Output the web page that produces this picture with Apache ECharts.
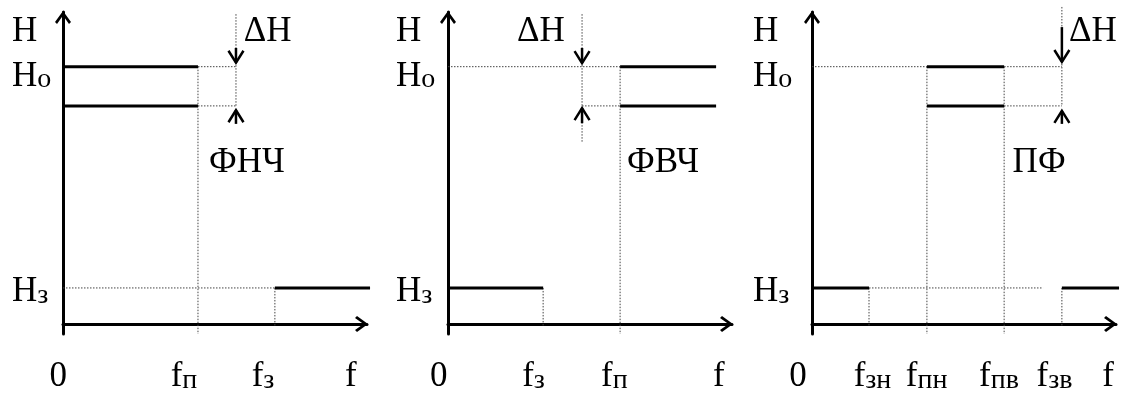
<!DOCTYPE html>
<html><head><meta charset="utf-8">
<script src="https://cdn.jsdelivr.net/npm/echarts@6/dist/echarts.min.js"></script>
<style>html,body{margin:0;padding:0;background:#fff}#c{width:1124px;height:394px}</style>
</head><body><div id="c"></div>
<script>
// ---------- data (schematic units) ----------
const panelTitles = ['ФНЧ', 'ФВЧ', 'ПФ'];
const deltaLabel = 'ΔН';
const yTickLabels = ['Н', 'Но', 'Нз'];
const yTickLabelValues = [8.2, 6.95, 0.95];
const hLevels = [7.15, 6.06, 1.0];            // Но, Но−ΔН, Нз
const yRange = [-0.28, 8.67];
const xRange = [0, 10];

const lpfFreqs = [4.44, 6.97];                // fп, fз
const hpfFreqs = [3.35, 6.06];                // fз, fп
const bpfFreqs = [1.875, 3.78, 6.32, 8.22];   // fзн, fпн, fпв, fзв
const fEnd = [10.1, 9.44, 10.1];              // right end of the response lines
const bpfStopDotEnd = 7.6;

const deltaMarkX = [5.69, 4.72, 8.22];        // ΔН marker position
const deltaDotTop = [8.61, 8.61, 8.81];
const deltaDotBottom = [6.06, 5.03, 6.06];
const arrowDownFrom = [7.67, 7.67, 8.25];
const arrowDownTo = [7.26, 7.25, 7.28];
const arrowUpFrom = [5.56, 5.58, 5.56];
const arrowUpTo = [5.94, 6.0, 5.92];

const yLabelX = [-1.68, -1.83, -1.94];
const deltaLabelPos = [[6.73, 8.2], [3.27, 8.2], [9.24, 8.2]];
const titlePos = [[6.05, 4.56], [7.57, 4.56], [7.47, 4.56]];
const xLabelY = -1.41;
const xTickLabels1 = ['0', 'fп', 'fз', 'f'];
const xTickLabelValues1 = [-0.16, 3.98, 6.58, 9.47];
const xTickLabels2 = ['0', 'fз', 'fп', 'f'];
const xTickLabelValues2 = [-0.33, 3.01, 5.86, 9.54];
const xTickLabels3 = ['0', 'fзн', 'fпн', 'fпв', 'fзв', 'f'];
const xTickLabelValues3 = [-0.46, 1.99, 3.77, 6.15, 7.98, 9.74];

// ---------- build geometry in data space ----------
const [H0, H1, Hz] = hLevels;
const yBot = yRange[0];
const axisFoot = -0.05;

function lpf() {
  const [fp, fz] = lpfFreqs, xm = deltaMarkX[0];
  return {
    solid: [[0, H0, fp, H0], [0, H1, fp, H1], [fz, Hz, fEnd[0], Hz]],
    dotted: [[fp, H0, xm, H0], [fp, H1, xm, H1], [fp, H0, fp, yBot], [0, Hz, fz, Hz],
             [fz, Hz, fz, axisFoot], [xm, deltaDotTop[0], xm, deltaDotBottom[0]]]
  };
}
function hpf() {
  const [fz, fp] = hpfFreqs, xm = deltaMarkX[1];
  return {
    solid: [[fp, H0, fEnd[1], H0], [fp, H1, fEnd[1], H1], [0, Hz, fz, Hz]],
    dotted: [[0, H0, fp, H0], [xm, H1, fp, H1], [fp, H0, fp, yBot],
             [fz, Hz, fz, axisFoot], [xm, deltaDotTop[1], xm, deltaDotBottom[1]]]
  };
}
function bpf() {
  const [fzn, fpn, fpv, fzv] = bpfFreqs, xm = deltaMarkX[2];
  return {
    solid: [[fpn, H0, fpv, H0], [fpn, H1, fpv, H1], [0, Hz, fzn, Hz], [fzv, Hz, fEnd[2], Hz]],
    dotted: [[0, H0, fpn, H0], [fpv, H0, xm, H0], [fpv, H1, xm, H1], [fpn, H0, fpn, yBot],
             [fpv, H0, fpv, yBot], [fzn, Hz, fzn, axisFoot], [fzn, Hz, bpfStopDotEnd, Hz],
             [fzv, Hz, fzv, axisFoot], [xm, deltaDotTop[2], xm, deltaDotBottom[2]]]
  };
}
const panels = [lpf(), hpf(), bpf()];
const xLabelSets = [[xTickLabels1, xTickLabelValues1], [xTickLabels2, xTickLabelValues2], [xTickLabels3, xTickLabelValues3]];

// ---------- layout / styles ----------
const FONT_FAMILY = '"Liberation Serif", "Times New Roman", serif';
const FONT_SIZE = 35;
const SUB_SIZE = 28;
const chevron = 'path://M8,0L16,11L14,13L8,4.5L2,13L0,11Z';
const gridBoxes = [
  { left: 63, top: 12, width: 304, height: 322 },
  { left: 448, top: 12, width: 284, height: 322 },
  { left: 812, top: 12, width: 304, height: 322 }
];

function segSeries(i, data, dotted) {
  return {
    type: 'custom', xAxisIndex: i, yAxisIndex: i, data: data, silent: true, z: dotted ? 2 : 3,
    renderItem: function (params, api) {
      const a = api.coord([api.value(0), api.value(1)]);
      const b = api.coord([api.value(2), api.value(3)]);
      return {
        type: 'line',
        shape: { x1: a[0], y1: a[1], x2: b[0], y2: b[1] },
        style: dotted ? { stroke: '#444', lineWidth: 1, lineDash: [1.5, 1.5] }
                      : { stroke: '#000', lineWidth: 3 }
      };
    }
  };
}
function arrowSeries(i) {
  const data = [[deltaMarkX[i], arrowDownFrom[i], arrowDownTo[i]], [deltaMarkX[i], arrowUpFrom[i], arrowUpTo[i]]];
  return {
    type: 'custom', xAxisIndex: i, yAxisIndex: i, data: data, silent: true, z: 4,
    renderItem: function (params, api) {
      const p0 = api.coord([api.value(0), api.value(1)]);
      const p1 = api.coord([api.value(0), api.value(2)]);
      const dir = p1[1] > p0[1] ? 1 : -1;
      const hw = 7.5, hh = 12;
      return {
        type: 'group', children: [
          { type: 'line', shape: { x1: p0[0], y1: p0[1], x2: p1[0], y2: p1[1] }, style: { stroke: '#000', lineWidth: 2.5 } },
          { type: 'polyline', shape: { points: [[p1[0] - hw, p1[1] - dir * hh], [p1[0], p1[1]], [p1[0] + hw, p1[1] - dir * hh]] },
            style: { stroke: '#000', lineWidth: 2.5, fill: null } }
        ]
      };
    }
  };
}
// a label like "fзн" is drawn as a main letter followed by a smaller index
function richText(t) {
  if (t.length < 2 || t === deltaLabel || panelTitles.indexOf(t) >= 0) return '{m|' + t + '}';
  return '{m|' + t[0] + '}{s|' + t.slice(1) + '}';
}
function textSeries(i) {
  const items = [];
  yTickLabels.forEach((t, k) => items.push({ t: t, v: [yLabelX[i], yTickLabelValues[k]], a: 'left' }));
  items.push({ t: deltaLabel, v: deltaLabelPos[i], a: 'center' });
  items.push({ t: panelTitles[i], v: titlePos[i], a: 'center' });
  const [labs, vals] = xLabelSets[i];
  labs.forEach((t, k) => items.push({ t: t, v: [vals[k], xLabelY], a: 'center' }));
  return {
    type: 'custom', xAxisIndex: i, yAxisIndex: i, silent: true, z: 5,
    data: items.map(d => d.v),
    renderItem: function (params, api) {
      const d = items[params.dataIndex];
      const p = api.coord([api.value(0), api.value(1)]);
      return { type: 'text', x: p[0], y: p[1],
        style: { text: richText(d.t), fill: '#000', align: d.a, verticalAlign: 'middle',
          fontFamily: FONT_FAMILY, fontSize: FONT_SIZE,
          rich: {
            m: { fontFamily: FONT_FAMILY, fontSize: FONT_SIZE, fill: '#000', lineHeight: 40, verticalAlign: 'bottom' },
            s: { fontFamily: FONT_FAMILY, fontSize: SUB_SIZE, fill: '#000', lineHeight: 40, verticalAlign: 'bottom' }
          } } };
    }
  };
}
function axisLine() {
  return { show: true, onZero: true, symbol: ['none', chevron], symbolSize: [16, 13], symbolOffset: [0, -5.5],
           lineStyle: { color: '#000', width: 3 } };
}

const option = {
  backgroundColor: '#fff',
  animation: false,
  grid: gridBoxes,
  xAxis: gridBoxes.map((g, i) => ({ gridIndex: i, type: 'value', min: xRange[0], max: xRange[1],
    axisLine: axisLine(), axisTick: { show: false }, axisLabel: { show: false }, splitLine: { show: false } })),
  yAxis: gridBoxes.map((g, i) => ({ gridIndex: i, type: 'value', min: yRange[0], max: yRange[1],
    axisLine: axisLine(), axisTick: { show: false }, axisLabel: { show: false }, splitLine: { show: false } })),
  series: []
};
panels.forEach((p, i) => {
  option.series.push(segSeries(i, p.dotted, true));
  option.series.push(segSeries(i, p.solid, false));
  option.series.push(arrowSeries(i));
  option.series.push(textSeries(i));
});
const chart = echarts.init(document.getElementById('c'), null, { renderer: 'canvas' });
chart.setOption(option);
</script></body></html>
